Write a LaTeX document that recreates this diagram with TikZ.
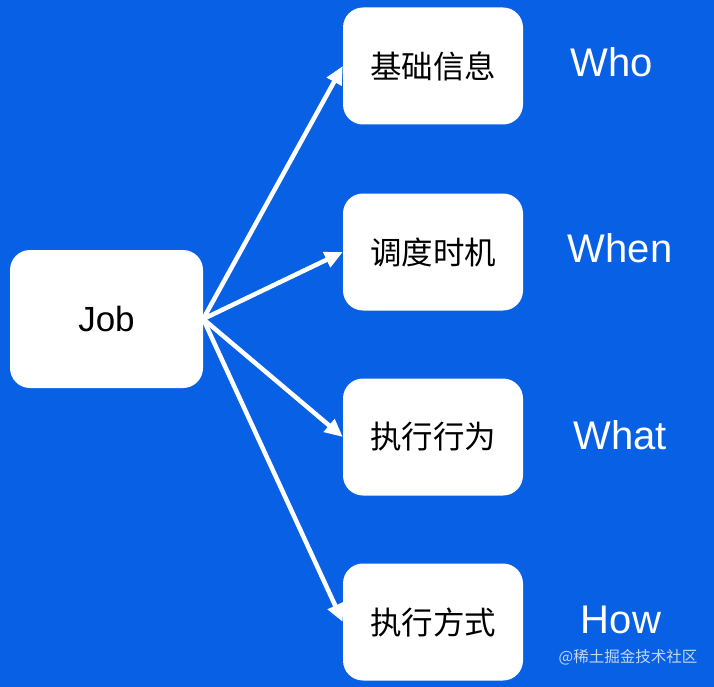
\documentclass[tikz,border=0pt]{standalone}
\usepackage{fontspec}
\setmainfont{Liberation Sans}
\newfontfamily\cjk{Noto Sans CJK SC}
\usetikzlibrary{arrows.meta}
\definecolor{bgblue}{RGB}{8,96,228}
\begin{document}
\begin{tikzpicture}
[
job/.style={rectangle, rounded corners=20pt, fill=white, minimum width=193pt, minimum height=138pt, inner sep=0, font=\fontsize{35}{38}\selectfont},
part/.style={rectangle, rounded corners=20pt, fill=white, minimum width=180pt, minimum height=117pt, inner sep=0, font=\cjk\fontsize{31.5}{34}\selectfont},
tag/.style={text=white, inner sep=0, font=\fontsize{40}{44}\selectfont},
link/.style={-{Triangle[length=18pt,width=16pt]}, draw=white, line width=4.5pt}
]
\useasboundingbox[fill=bgblue] (0pt,0pt) rectangle (714pt,-687pt);
%Nodes
\node[job]   (job)    at (106.5pt,-319pt)  {Job};
\node[part]  (info)   at (433pt,-66pt)     {基础信息};
\node[part]  (when)   at (433pt,-252pt)    {调度时机};
\node[part]  (act)    at (433pt,-437pt)    {执行行为};
\node[part]  (mode)   at (433pt,-622pt)    {执行方式};
\node[tag]   (who)    at (612pt,-62pt)     {Who};
\node[tag]   (whenT)  at (620pt,-248pt)    {When};
\node[tag]   (what)   at (620pt,-435pt)    {What};
\node[tag]   (how)    at (621pt,-620pt)    {How};
\node[text=white!75!bgblue, inner sep=0, font=\cjk\fontsize{15.5}{17}\selectfont] (mark) at (628pt,-657pt) {@稀土掘金技术社区};

%Lines
\draw[link] (job.east) -- (info.west);
\draw[link] (job.east) -- (when.west);
\draw[link] (job.east) -- (act.west);
\draw[link] (job.east) -- (mode.west);
\end{tikzpicture}
\end{document}
